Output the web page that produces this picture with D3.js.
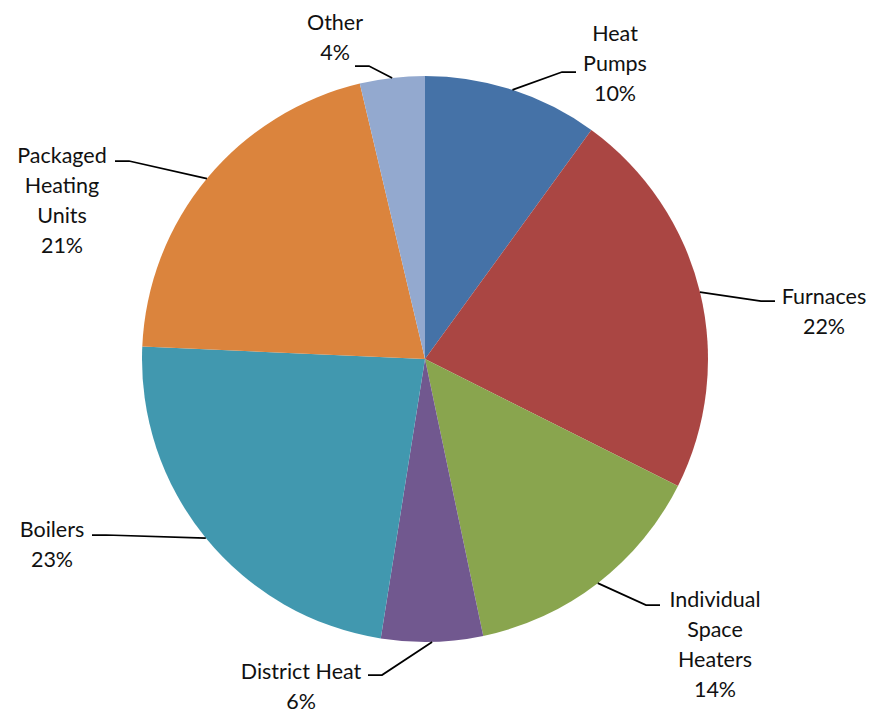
<!DOCTYPE html>
<html>
<head>
<meta charset="utf-8">
<script src="https://cdn.jsdelivr.net/npm/d3@7"></script>
<style>
  body { margin: 0; background: #fff; }
  svg { display: block; }
  .label { font-family: Lato, "Open Sans", sans-serif; font-size: 21.5px; fill: #111; }
</style>
</head>
<body>
<script>
// Données (parts estimées à partir des angles des secteurs)
const categories = ["Heat Pumps", "Furnaces", "Individual Space Heaters", "District Heat", "Boilers", "Packaged Heating Units", "Other"];
const shares = [10.0, 22.4, 14.3, 5.8, 23.2, 20.6, 3.7];
// Lignes des étiquettes (retours à la ligne comme dans l'original)
const labelLines = [["Heat", "Pumps"], ["Furnaces"], ["Individual", "Space", "Heaters"], ["District Heat"], ["Boilers"], ["Packaged", "Heating", "Units"], ["Other"]];
const colors = ["#4572A7", "#AA4643", "#89A54E", "#71588F", "#4198AF", "#DB843D", "#93A9CF"];

const width = 871;
const height = 712;
const cx = 425;
const cy = 359;
const radius = 283;
const lineH = 30;

// Placement des étiquettes (type "meilleur ajustement" d'Excel), relatif au centre
// x: centre du texte, y: centre de la 1re ligne, ex/ey: bout du trait horizontal
const labelLayout = {
  "Heat Pumps": { x: 190, y: -326, ex: 151, ey: -287, side: 1 },
  "Furnaces": { x: 399, y: -63, ex: 350, ey: -58, side: 1 },
  "Individual Space Heaters": { x: 290, y: 240, ex: 235, ey: 246, side: 1 },
  "District Heat": { x: -124, y: 312, ex: -57, ey: 316, side: -1 },
  "Boilers": { x: -373, y: 170, ex: -333, ey: 176, side: -1 },
  "Packaged Heating Units": { x: -363, y: -204, ex: -310, ey: -198, side: -1 },
  "Other": { x: -90, y: -337, ex: -70, ey: -293, side: -1 }
};

const data = categories.map((c, i) => ({ name: c, value: shares[i], lines: labelLines[i], color: colors[i] }));

const svg = d3.select("body").append("svg").attr("width", width).attr("height", height);
const g = svg.append("g").attr("transform", `translate(${cx},${cy})`);

const pie = d3.pie().sort(null).value((d) => d.value);
const arcs = pie(data);
const arc = d3.arc().innerRadius(0).outerRadius(radius);
const edgeArc = d3.arc().innerRadius(radius).outerRadius(radius);

g.selectAll("path.slice")
  .data(arcs)
  .join("path")
  .attr("class", "slice")
  .attr("d", arc)
  .attr("fill", (d) => d.data.color);

// Traits de rappel
g.selectAll("polyline.leader")
  .data(arcs)
  .join("polyline")
  .attr("class", "leader")
  .attr("fill", "none")
  .attr("stroke", "#000")
  .attr("stroke-width", 1.75)
  .attr("points", (d) => {
    const L = labelLayout[d.data.name];
    const start = edgeArc.centroid(d);
    const elbow = [L.ex - L.side * 14, L.ey];
    return [start, elbow, [L.ex, L.ey]].map((p) => p.join(",")).join(" ");
  });

// Étiquettes
const labels = g.selectAll("text.label")
  .data(arcs)
  .join("text")
  .attr("class", "label")
  .attr("text-anchor", "middle")
  .attr("transform", (d) => `translate(${labelLayout[d.data.name].x},${labelLayout[d.data.name].y})`);

labels.selectAll("tspan")
  .data((d) => d.data.lines.concat([Math.round(d.data.value) + "%"]))
  .join("tspan")
  .attr("x", 0)
  .attr("y", (d, i) => i * lineH)
  .attr("dy", "0.35em")
  .text((d) => d);
</script>
</body>
</html>
